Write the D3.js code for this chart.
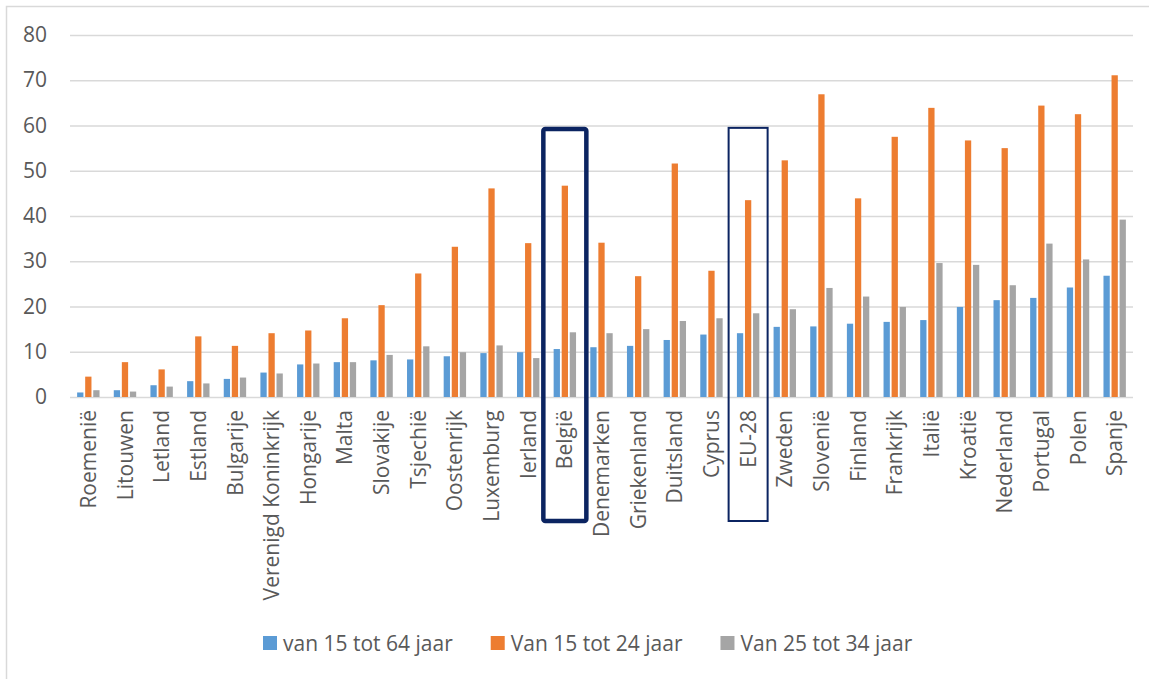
<!DOCTYPE html>
<html>
<head>
<meta charset="utf-8">
<script src="https://cdn.jsdelivr.net/npm/d3@7"></script>
<style>
  html, body { margin: 0; padding: 0; background: #ffffff; }
  svg { display: block; font-family: "Open Sans", "DejaVu Sans", sans-serif; }
</style>
</head>
<body>
<svg id="chart" width="1149" height="679"></svg>
<script>
// ---- data ----
const categories = ["Roemenië","Litouwen","Letland","Estland","Bulgarije","Verenigd Koninkrijk","Hongarije","Malta","Slovakije","Tsjechië","Oostenrijk","Luxemburg","Ierland","België","Denemarken","Griekenland","Duitsland","Cyprus","EU-28","Zweden","Slovenië","Finland","Frankrijk","Italië","Kroatië","Nederland","Portugal","Polen","Spanje"];
const seriesNames = ["van 15 tot 64 jaar","Van 15 tot 24 jaar","Van 25 tot 34 jaar"];
const age15to64 = [1.0,1.5,2.6,3.5,4.0,5.4,7.2,7.7,8.1,8.3,9.0,9.7,9.9,10.6,11.0,11.3,12.6,13.8,14.1,15.5,15.6,16.2,16.6,17.0,19.9,21.4,21.9,24.2,26.8];
const age15to24 = [4.5,7.7,6.1,13.4,11.3,14.1,14.7,17.4,20.3,27.3,33.2,46.1,34.0,46.7,34.1,26.7,51.6,27.9,43.5,52.3,66.9,43.9,57.5,63.9,56.7,55.0,64.4,62.5,71.1];
const age25to34 = [1.5,1.2,2.3,3.0,4.3,5.2,7.4,7.7,9.3,11.2,9.9,11.4,8.6,14.3,14.1,15.0,16.8,17.4,18.5,19.4,24.1,22.2,19.9,29.6,29.2,24.7,33.9,30.4,39.2];
const yTicks = [0,10,20,30,40,50,60,70,80];
const highlighted = ["België","EU-28"];

// ---- layout ----
const W = 1149, H = 679;
const margin = {left: 70, right: 16, top: 35, bottom: 282};
const plotW = W - margin.left - margin.right;   // 1063
const plotH = H - margin.top - margin.bottom;   // 362
const colors = ["#5b9bd5", "#ed7d31", "#a5a5a5"];
const textColor = "#595959";
const gridColor = "#d9d9d9";
const fontSize = "21px";

const svg = d3.select("#chart");

// outer chart frame (extends past the right/bottom edge)
svg.append("rect")
  .attr("x", 6.5).attr("y", 6.5)
  .attr("width", W + 20).attr("height", H + 20)
  .attr("fill", "none").attr("stroke", gridColor).attr("stroke-width", 1.5);

const g = svg.append("g").attr("transform", `translate(${margin.left},${margin.top})`);

const x = d3.scaleBand().domain(categories).range([0, plotW]).paddingInner(0).paddingOuter(0);
const y = d3.scaleLinear().domain([0, 80]).range([plotH, 0]);
const inner = d3.scaleBand().domain(seriesNames).range([-11.2, 11.2]).paddingInner(0.22);

// y axis with gridlines
const yAxis = g.append("g").call(
  d3.axisLeft(y).tickValues(yTicks).tickSize(-plotW).tickPadding(23).tickFormat(d3.format("d"))
);
yAxis.select(".domain").remove();
yAxis.selectAll(".tick line").attr("stroke", gridColor).attr("stroke-width", 1.4);
yAxis.selectAll(".tick text")
  .attr("fill", textColor).style("font-size", fontSize)
  .style("font-family", "'Open Sans', sans-serif");

// bars
const seriesData = [age15to64, age15to24, age25to34];
seriesData.forEach((vals, si) => {
  g.append("g").selectAll("rect")
    .data(categories.map((c, i) => ({c, v: vals[i]})))
    .join("rect")
    .attr("x", d => x(d.c) + x.bandwidth() / 2 + inner(seriesNames[si]))
    .attr("width", inner.bandwidth())
    .attr("y", d => y(d.v))
    .attr("height", d => y(0) - y(d.v))
    .attr("fill", colors[si]);
});

// category labels (rotated)
g.append("g").selectAll("text")
  .data(categories)
  .join("text")
  .attr("transform", d => `translate(${x(d) + x.bandwidth() / 2},${plotH + 13}) rotate(-90)`)
  .attr("text-anchor", "end")
  .attr("dy", "0.36em")
  .attr("fill", textColor)
  .style("font-size", fontSize)
  .text(d => d);

// highlight boxes
highlighted.forEach((c, k) => {
  const cx = x(c) + x.bandwidth() / 2;
  const sw = k === 0 ? 4.5 : 2;
  const hw = k === 0 ? 21.5 : 19.5;
  g.append("rect")
    .attr("x", cx - hw).attr("y", y(59.7) + sw / 2)
    .attr("width", hw * 2).attr("height", (y(0) + 124) - (y(59.7) + sw / 2))
    .attr("rx", k === 0 ? 2 : 0)
    .attr("fill", "none")
    .attr("stroke", "#0b2461")
    .attr("stroke-width", sw);
});

// legend
const legend = svg.append("g").attr("transform", "translate(263,636)");
let lx = 0;
seriesNames.forEach((name, i) => {
  const item = legend.append("g").attr("transform", `translate(${lx},0)`);
  item.append("rect").attr("width", 14).attr("height", 14).attr("fill", colors[i]);
  const t = item.append("text")
    .attr("x", 20).attr("y", 7).attr("dy", "0.36em")
    .attr("fill", textColor).style("font-size", fontSize)
    .text(name);
  const tw = t.node().getComputedTextLength();
  lx += 20 + tw + 38;
});
</script>
</body>
</html>
